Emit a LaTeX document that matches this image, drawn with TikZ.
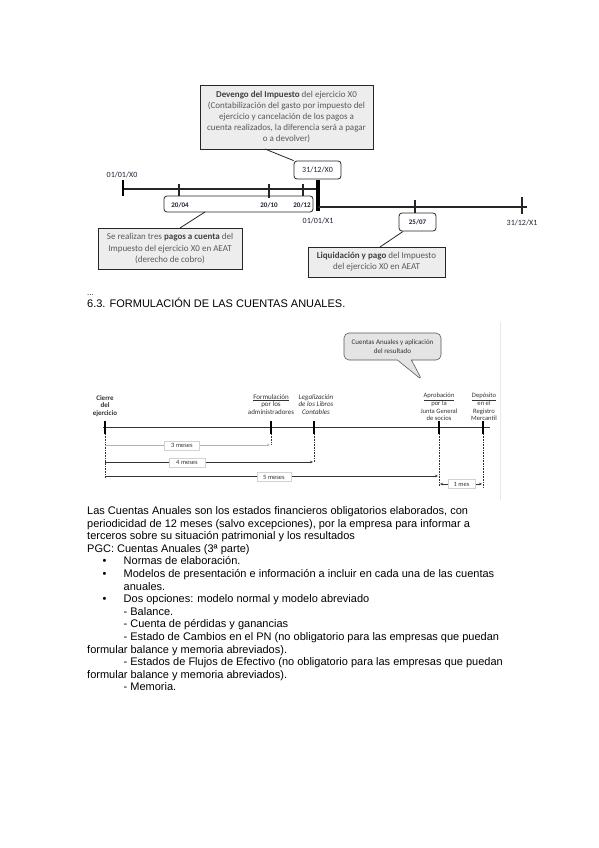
\documentclass[tikz,border=0pt]{standalone}
\usepackage{fontspec}
\setmainfont{Liberation Sans}
\newfontfamily\calfont{Carlito}
\usetikzlibrary{shapes.callouts,arrows.meta,calc}
\definecolor{txtgray}{HTML}{595959}
\definecolor{boxfill}{HTML}{EDEDED}
\definecolor{boxline}{HTML}{262626}
\definecolor{datecol}{HTML}{1F2233}
\definecolor{callfill}{HTML}{E4E4E4}
\definecolor{linedark}{HTML}{333333}
\begin{document}
\begin{tikzpicture}[x=1pt,y=-1pt,
  greybox/.style={draw=boxline, line width=0.9pt, fill=boxfill, text=txtgray, align=center, inner sep=0pt,
    font=\calfont\fontsize{9}{11.2}\selectfont},
  datebox/.style={draw=boxline, line width=0.8pt, rounded corners=3pt, fill=white, inner sep=0pt},
  datelbl/.style={font=\calfont\bfseries\fontsize{7}{8}\selectfont, text=datecol, inner sep=0pt},
  axislbl/.style={font=\calfont\fontsize{8}{9}\selectfont, text=datecol, inner sep=0pt},
  tline/.style={draw=boxline, line width=1.1pt},
  ticklbl/.style={font=\calfont\fontsize{7}{7.8}\selectfont, text=linedark, align=center, inner sep=0pt},
  durbox/.style={draw=gray!35, fill=white, font=\calfont\fontsize{6.5}{7}\selectfont, text=linedark, inner sep=1.5pt, minimum height=9pt},
  durline/.style={draw=linedark, line width=0.5pt, -{Stealth[length=3pt,width=2.5pt]}},
  dotv/.style={draw=linedark, line width=0.6pt, densely dotted},
  bigtick/.style={draw=black, line width=2.6pt},
  body/.style={font=\fontsize{11}{12.6}\selectfont, text=black, anchor=base west, inner sep=0pt}
]
\useasboundingbox[fill=white] (0,0) rectangle (599,848);

% ================= Diagram 1 =================
\node[greybox, minimum width=173pt, minimum height=64pt] (dev) at (286.5,117)
 {{\color{black!75}\bfseries Devengo del Impuesto} del ejercicio X0\\
  (Contabilización del gasto por impuesto del\\
  ejercicio y cancelación de los pagos a\\
  cuenta realizados, la diferencia será a pagar\\
  o a devolver)};
\node[datebox, minimum width=47pt, minimum height=18pt] (d31) at (317.5,170) {};
\node[axislbl] (d31t) at (d31) {31/12/X0};
\coordinate (devtail) at (265,149);
\draw[draw=boxline, line width=0.8pt] (devtail) -- (d31.north west);

% timeline X0
\coordinate (t0) at (123,189);
\coordinate (tend) at (318,189);
\draw[tline] (t0) -- (tend);
\draw[bigtick, line width=2.4pt] (123,180) -- (123,196);
\node[datebox, minimum width=149pt, minimum height=16pt] (paybox) at (238.5,204) {};
\draw[tline] (179,184) -- (179,196);
\draw[tline, line width=2pt] (269,184) -- (269,198);
\draw[tline] (303,184) -- (303,196);
\node[datelbl] (p1) at (180,205) {20/04};
\node[datelbl] (p2) at (269,205) {20/10};
\node[datelbl] (p3) at (302,205) {20/12};
\draw[draw=black, line width=3.2pt] (318,180) -- (318,211);
% timeline X1
\coordinate (u0) at (318,207);
\coordinate (uend) at (527,207);
\draw[tline] (u0) -- (uend);
\draw[tline] (415,200) -- (415,214);
\draw[tline, line width=1.8pt] (522,197) -- (522,214);
\node[axislbl] (x0) at (122,175) {01/01/X0};
\node[axislbl] (x1) at (318,221) {01/01/X1};
\node[axislbl] (x2) at (522,223) {31/12/X1};
\node[datebox, minimum width=37pt, minimum height=18pt] (d25) at (417.5,222) {};
\node[datelbl] (d25t) at (d25) {25/07};

\node[greybox, minimum width=144pt, minimum height=41pt] (pagos) at (170,248.5)
 {Se realizan tres {\color{black!75}\bfseries pagos a cuenta} del\\
  Impuesto del ejercicio X0 en AEAT\\
  (derecho de cobro)};
\coordinate (paytail) at (205,212);
\draw[draw=boxline, line width=0.8pt] (paytail) -- (180,228);

\node[greybox, minimum width=137pt, minimum height=30pt] (liq) at (376.5,262)
 {{\color{black!75}\bfseries Liquidación y pago} del Impuesto\\
  del ejercicio X0 en AEAT};
\coordinate (liqtail) at (403,231.5);
\draw[draw=boxline, line width=0.8pt] (liqtail) -- (380,247);

% ================= Heading =================
\node[font=\fontsize{8}{9}\selectfont, anchor=base west, inner sep=0pt] (dots) at (87,295) {...};
\node[body] (head) at (87,307) {6.3. FORMULACIÓN DE LAS CUENTAS ANUALES.};

% ================= Diagram 2 =================
\draw[gray!18, line width=0.8pt] (500,322) -- (500,500);
\node[rectangle callout, rounded corners=5pt, draw=txtgray, line width=0.6pt, fill=callfill,
  minimum width=97pt, minimum height=27pt, inner sep=0pt, align=center,
  font=\calfont\fontsize{7}{8.6}\selectfont, text=linedark,
  callout absolute pointer={(422,380)}, callout pointer width=14pt] (ca) at (392.5,346.5)
  {Cuentas Anuales y aplicación\\del resultado};

\coordinate (m0) at (103,427);
\coordinate (mend) at (490,427);
\draw[draw=linedark, line width=1pt] (m0) -- (mend);
\foreach \xx in {105,271,314,439,483} \draw[bigtick] (\xx,421) -- (\xx,434);

\node[ticklbl, font=\calfont\bfseries\fontsize{7}{7.8}\selectfont] (l1) at (105,406) {Cierre\\del\\ejercicio};
\node[ticklbl] (l2) at (271,404.5) {\underline{Formulación}\\por los\\administradores};
\node[ticklbl, font=\calfont\itshape\fontsize{7}{7.8}\selectfont] (l3) at (316,404.5) {Legalización\\de los Libros\\Contables};
\node[ticklbl, font=\calfont\fontsize{6.6}{7.1}\selectfont] (l4) at (439,406.5) {\underline{Aprobación}\\por la\\Junta General\\de socios};
\node[ticklbl, font=\calfont\fontsize{6.6}{7.1}\selectfont] (l5) at (484,406.5) {\underline{Depósito}\\en el\\Registro\\Mercantil};

\draw[dotv] (105,434) -- (105,478);
\draw[dotv] (271,434) -- (271,445);
\draw[dotv] (314,434) -- (314,462);
\draw[dotv] (439,434) -- (439,486);
\draw[dotv] (483,434) -- (483,488);

\coordinate (a3s) at (105,445); \coordinate (a3e) at (270,445);
\coordinate (a4s) at (105,462); \coordinate (a4e) at (313,462);
\coordinate (a5s) at (105,476); \coordinate (a5e) at (438,476);
\coordinate (a1s) at (440,484); \coordinate (a1e) at (482,484);
\draw[durline, draw=gray!60] (a3s) -- (a3e);
\draw[durline] (a4s) -- (a4e);
\draw[durline] (a5s) -- (a5e);
\draw[durline, {Stealth[length=3pt,width=2.5pt]}-{Stealth[length=3pt,width=2.5pt]}] (a1s) -- (a1e);
\node[durbox, minimum width=35pt] (b3) at (182,445.5) {3 meses};
\node[durbox, minimum width=36pt] (b4) at (187,462.5) {4 meses};
\node[durbox, minimum width=34pt] (b5) at (274,477) {5 meses};
\node[durbox, minimum width=27pt] (b1) at (461.5,484) {1 mes};

% ================= Body text =================
\node[body] (t1) at (87,514.5) {Las Cuentas Anuales son los estados financieros obligatorios elaborados, con};
\node[body] (t2) at (87,527.1) {periodicidad de 12 meses (salvo excepciones), por la empresa para informar a};
\node[body] (t3) at (87,539.7) {terceros sobre su situación patrimonial y los resultados};
\node[body] (t4) at (87,552.3) {PGC: Cuentas Anuales (3ª parte)};
\node[body] (k1) at (102.5,564.9) {•};
\node[body] (t5) at (123.5,564.9) {Normas de elaboración.};
\node[body] (k2) at (102.5,577.5) {•};
\node[body] (t6) at (123.5,577.5) {Modelos de presentación e información a incluir en cada una de las cuentas};
\node[body] (t7) at (123.5,590.1) {anuales.};
\node[body] (k3) at (102.5,602.7) {•};
\node[body] (t8) at (123.5,602.7) {Dos opciones: modelo normal y modelo abreviado};
\node[body] (t9) at (123.5,615.3) {- Balance.};
\node[body] (t10) at (123.5,627.9) {- Cuenta de pérdidas y ganancias};
\node[body] (t11) at (123.5,640.5) {- Estado de Cambios en el PN (no obligatorio para las empresas que puedan};
\node[body] (t12) at (87,653.1) {formular balance y memoria abreviados).};
\node[body] (t13) at (123.5,665.7) {- Estados de Flujos de Efectivo (no obligatorio para las empresas que puedan};
\node[body] (t14) at (87,678.3) {formular balance y memoria abreviados).};
\node[body] (t15) at (123.5,690.9) {- Memoria.};
\end{tikzpicture}
\end{document}
